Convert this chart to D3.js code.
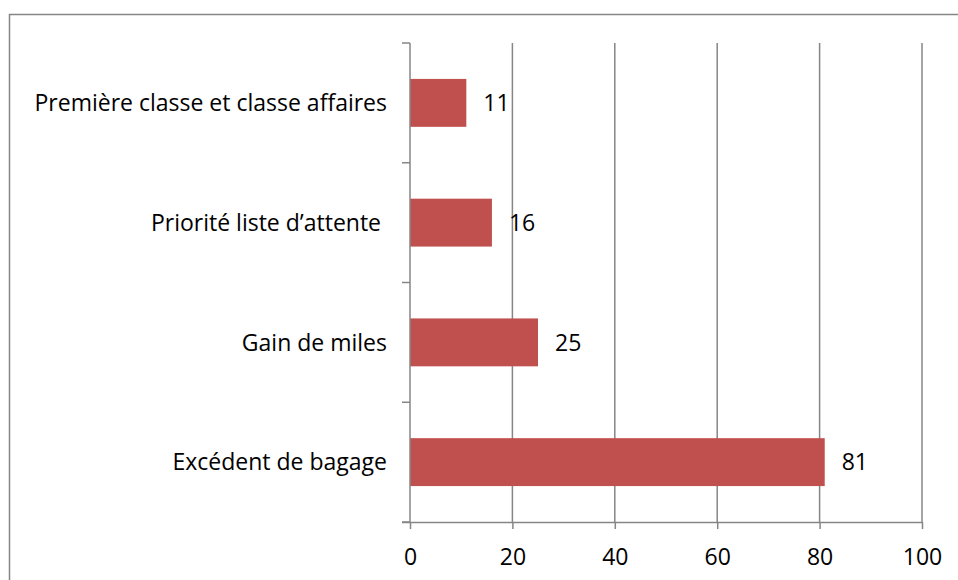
<!DOCTYPE html>
<html>
<head>
<meta charset="utf-8">
<script src="https://cdn.jsdelivr.net/npm/d3@7"></script>
<style>
  html, body { margin: 0; padding: 0; background: #fff; }
  svg { display: block; }
  text { font-family: "Open Sans", "Noto Sans", sans-serif; fill: #000; }
</style>
</head>
<body>
<svg id="chart" width="958" height="580"></svg>
<script>
// Categories listed top to bottom
const categories = [
  "Première classe et classe affaires",
  "Priorité liste d’attente ",
  "Gain de miles",
  "Excédent de bagage"
];
const values = [11, 16, 25, 81];
const xTicks = [0, 20, 40, 60, 80, 100];

const svg = d3.select("#chart");
const W = 958, H = 580;
const plot = { left: 410, right: 922, top: 43, bottom: 522 };
const fontSize = 23;

const axisColor = "#868686";
const barColor = "#C0504D";

// Outer frame
svg.append("rect")
  .attr("x", 9.5).attr("y", 14.5)
  .attr("width", W + 20).attr("height", H + 20)
  .attr("fill", "none")
  .attr("stroke", axisColor)
  .attr("stroke-width", 1.5);

const x = d3.scaleLinear().domain([0, 100]).range([plot.left, plot.right]);
const y = d3.scaleBand().domain(categories).range([plot.top, plot.bottom]).paddingInner(0.6).paddingOuter(0.3);

// Vertical gridlines
svg.append("g").selectAll("line")
  .data(xTicks.filter(d => d > 0))
  .join("line")
  .attr("x1", d => x(d)).attr("x2", d => x(d))
  .attr("y1", plot.top).attr("y2", plot.bottom)
  .attr("stroke", axisColor).attr("stroke-width", 1.5);

// Bars
svg.append("g").selectAll("rect")
  .data(categories)
  .join("rect")
  .attr("x", x(0))
  .attr("y", d => y(d))
  .attr("width", (d, i) => x(values[i]) - x(0))
  .attr("height", y.bandwidth())
  .attr("fill", barColor);

// Value labels
svg.append("g").selectAll("text")
  .data(categories)
  .join("text")
  .attr("x", (d, i) => x(values[i]) + 17)
  .attr("y", d => y(d) + y.bandwidth() / 2)
  .attr("dy", "0.36em")
  .attr("font-size", fontSize)
  .text((d, i) => values[i]);

// Category axis (left) with boundary ticks
const step = (plot.bottom - plot.top) / categories.length;
const yAxis = svg.append("g");
yAxis.append("line")
  .attr("x1", plot.left).attr("x2", plot.left)
  .attr("y1", plot.top).attr("y2", plot.bottom)
  .attr("stroke", axisColor).attr("stroke-width", 1.5);
yAxis.selectAll("line.tick")
  .data(d3.range(categories.length + 1))
  .join("line")
  .attr("class", "tick")
  .attr("x1", plot.left - 8).attr("x2", plot.left)
  .attr("y1", i => plot.top + i * step).attr("y2", i => plot.top + i * step)
  .attr("stroke", axisColor).attr("stroke-width", 1.5);
yAxis.selectAll("text")
  .data(categories)
  .join("text")
  .attr("x", plot.left - 23)
  .attr("y", d => y(d) + y.bandwidth() / 2)
  .attr("dy", "0.36em")
  .attr("text-anchor", "end")
  .attr("font-size", fontSize)
  .style("white-space", "pre")
  .text(d => d);

// Value axis (bottom)
const xAxis = svg.append("g").attr("transform", `translate(0,${plot.bottom})`)
  .call(d3.axisBottom(x).tickValues(xTicks).tickSize(7).tickPadding(20).tickFormat(d3.format("d")));
xAxis.select(".domain").attr("stroke", axisColor).attr("stroke-width", 1.5)
  .attr("d", `M${plot.left - 8},0.5H${plot.right}`);
xAxis.selectAll(".tick line").attr("stroke", axisColor).attr("stroke-width", 1.5);
xAxis.selectAll(".tick text")
  .attr("font-size", fontSize)
  .attr("font-family", "'Open Sans', 'Noto Sans', sans-serif")
  .attr("fill", "#000");
</script>
</body>
</html>
